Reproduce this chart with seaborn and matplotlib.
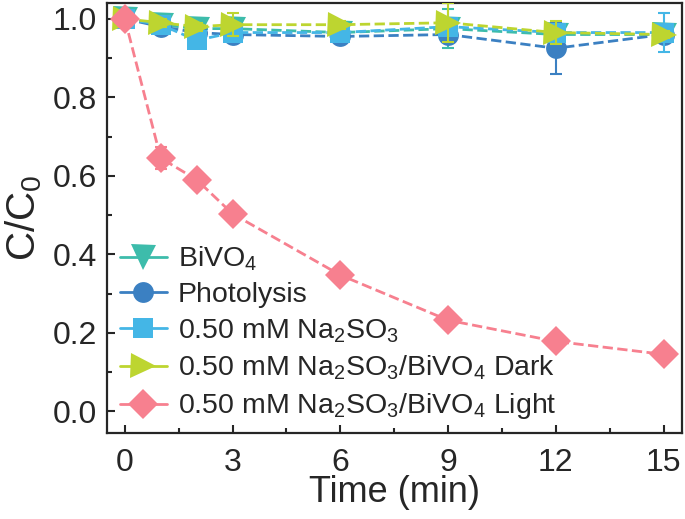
import seaborn as sns
import pandas as pd
import matplotlib.pyplot as plt
from matplotlib.ticker import MultipleLocator

###################
# Data
time = [0, 1, 2, 3, 6, 9, 12, 15]

bivo4 = [1.00, 0.985, 0.975, 0.975, 0.965, 0.975, 0.96, 0.96]
bivo4_err = [0.01, 0.01, 0.015, 0.02, 0.015, 0.05, 0.015, 0.02]

photolysis = [1.00, 0.98, 0.965, 0.96, 0.955, 0.96, 0.925, 0.96]
photolysis_err = [0.01, 0.01, 0.015, 0.015, 0.01, 0.02, 0.065, 0.02]

na2so3 = [1.00, 0.985, 0.945, 0.965, 0.965, 0.98, 0.965, 0.965]
na2so3_err = [0.01, 0.015, 0.02, 0.02, 0.02, 0.02, 0.02, 0.05]

dark = [1.00, 0.99, 0.98, 0.985, 0.985, 0.99, 0.965, 0.96]
dark_err = [0.01, 0.01, 0.01, 0.03, 0.01, 0.05, 0.03, 0.01]

light = [1.00, 0.645, 0.59, 0.503, 0.347, 0.232, 0.178, 0.145]
light_err = [0.005, 0.028, 0.005, 0.005, 0.005, 0.005, 0.005, 0.005]

labels = ["BiVO$_4$", "Photolysis", "0.50 mM Na$_2$SO$_3$",
          "0.50 mM Na$_2$SO$_3$/BiVO$_4$ Dark", "0.50 mM Na$_2$SO$_3$/BiVO$_4$ Light"]
series = [bivo4, photolysis, na2so3, dark, light]
errors = [bivo4_err, photolysis_err, na2so3_err, dark_err, light_err]

###################
# Setup
sns.set_style("ticks")
plt.rcParams["font.family"] = ["Liberation Sans", "DejaVu Sans"]
plt.rcParams["mathtext.fontset"] = "custom"
plt.rcParams["mathtext.rm"] = "Liberation Sans"
plt.rcParams["mathtext.it"] = "Liberation Sans:italic"

colors = ["#3dbcab", "#3b80c2", "#44b6e6", "#bdd530", "#f7808f"]
markers = ["v", "o", "s", ">", "D"]
sizes = [18, 15, 15, 18, 15]

fig, ax = plt.subplots(figsize=(6.85, 5.19), dpi=100)
fig.subplots_adjust(left=0.156, right=0.995, top=0.994, bottom=0.166)

for i, (vals, errs) in enumerate(zip(series, errors)):
    df = pd.DataFrame({"Time": time, "C": vals})
    ax.errorbar(time, vals, yerr=errs, fmt="none", ecolor=colors[i],
                elinewidth=1.5, capsize=4, capthick=1.5, zorder=2 + i)
    sns.lineplot(df, x="Time", y="C", ax=ax, color=colors[i], marker=markers[i],
                 markersize=sizes[i], markeredgewidth=0, linestyle="--",
                 dashes=(4.5, 3.5), linewidth=2.0, label=labels[i], zorder=2 + i)

###################
# Axes
ax.set_xlim(-0.5, 15.5)
ax.set_ylim(-0.055, 1.04)
ax.xaxis.set_major_locator(MultipleLocator(3))
ax.xaxis.set_minor_locator(MultipleLocator(1.5))
ax.yaxis.set_major_locator(MultipleLocator(0.2))
ax.yaxis.set_minor_locator(MultipleLocator(0.1))
ax.yaxis.set_major_formatter(plt.FormatStrFormatter("%.1f"))
ax.tick_params(which="major", direction="in", length=6, width=1.5, labelsize=23)
ax.tick_params(which="minor", direction="in", length=3.5, width=1.5)
ax.tick_params(axis="x", which="major", pad=11)
ax.tick_params(axis="y", which="major", pad=7)
ax.set_xlabel("Time (min)", fontsize=26, labelpad=-2)
ax.set_ylabel("C/C$_{\\it 0}$", fontsize=29, labelpad=6)
for s in ax.spines.values():
    s.set_linewidth(1.6)

leg = ax.legend(loc="lower left", bbox_to_anchor=(-0.005, -0.01), frameon=False,
                fontsize=20.5, handlelength=1.65, handletextpad=0.4,
                labelspacing=0.32, borderaxespad=0.15)
for line in leg.get_lines():
    line.set_linestyle("-")

###################
# Export
fig.savefig("out.png", dpi=100)
